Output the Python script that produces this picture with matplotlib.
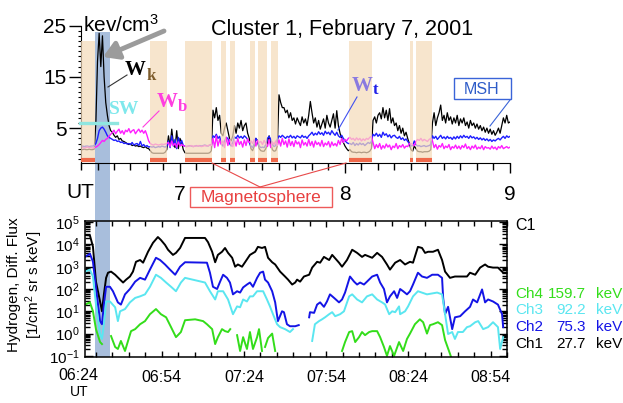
import numpy as np
import matplotlib
matplotlib.use('Agg')
import matplotlib.pyplot as plt
from matplotlib.patches import Rectangle
from matplotlib.lines import Line2D
import matplotlib.transforms as mtransforms
from matplotlib.ticker import FixedLocator, FixedFormatter, NullFormatter

plt.rcParams['font.family'] = ['Liberation Sans', 'DejaVu Sans']
plt.rcParams['mathtext.fontset'] = 'custom'
plt.rcParams['mathtext.rm'] = 'Liberation Sans'
plt.rcParams['mathtext.it'] = 'Liberation Sans:italic'
plt.rcParams['mathtext.bf'] = 'Liberation Sans:bold'
plt.rcParams['axes.unicode_minus'] = True

nan = np.nan

# ---------------- top panel: energy densities (keV/cm^3), sampled every 0.01 h from 6.40 UT
T0, DT = 6.40, 0.01
WK = [0.8, 0.8, 0.9, 0.8, 0.8, 0.9, 0.8, 0.8, 0.9, 6.0,
      18.0, 23.5, 17.0, 23.0, 15.0, 10.0, 7.5, 5.5, 4.5, 4.2,
      3.6, 3.2, 3.5, 2.8, 3.0, 2.5, 2.4, 2.2, 2.0, 1.8,
      1.9, 1.6, 1.7, 1.5, 1.6, 1.4, 1.5, 1.3, 1.2, 1.4,
      1.1, 1.0, 0.6, 0.2, 0.1, 0.1, 0.1, 0.1, 0.1, 0.1,
      0.1, 0.3, 0.8, 3.5, 1.5, 4.8, 2.0, 1.2, 4.5, 1.0,
      3.0, 2.2, 0.8, 0.2, 0.1, 0.1, 0.1, 0.1, 0.1, 0.1,
      0.1, 0.1, 0.1, 0.1, 0.1, 0.1, 0.1, 0.1, 0.2, 0.6,
      8.5, 7.0, 9.0, 6.5, 7.5, 4.0, 3.5, 5.0, 6.0, 4.5,
      3.0, 2.5, 3.5, 5.5, 4.0, 6.0, 5.0, 6.5, 4.5, 5.5,
      6.0, 4.0, 3.0, 1.0, 0.6, 1.5, 3.0, 2.5, 1.0, 0.6,
      0.5, 0.5, 1.0, 2.0, 3.5, 2.0, 0.8, 0.5, 0.6, 1.5,
      11.5, 10.0, 9.0, 9.0, 8.0, 8.5, 7.0, 8.0, 6.5, 7.0,
      5.8, 7.0, 6.2, 5.5, 7.2, 6.0, 6.8, 5.5, 7.5, 10.2,
      8.0, 6.0, 7.0, 5.2, 6.5, 4.8, 5.8, 6.8, 5.0, 7.5,
      6.0, 5.2, 6.5, 7.8, 5.0, 8.4, 5.5, 4.0, 3.0, 2.2,
      1.5, 1.0, 0.6, 0.8, 0.4, 0.3, 0.3, 0.2, 0.3, 0.3,
      0.2, 0.3, 0.3, 0.2, 0.3, 0.5, 1.0, 6.5, 7.2, 6.0,
      7.5, 8.0, 6.8, 9.0, 7.0, 8.5, 6.5, 8.8, 6.0, 7.0,
      5.5, 6.0, 4.5, 5.5, 4.0, 5.0, 3.5, 4.2, 3.0, 2.0,
      0.8, 0.5, 1.5, 1.0, 0.5, 0.4, 0.4, 0.3, 0.4, 0.4,
      0.4, 0.5, 0.8, 6.0, 8.0, 5.5, 7.0, 8.0, 9.5, 6.5,
      7.5, 6.0, 8.0, 6.5, 7.2, 5.8, 7.0, 6.0, 7.5, 5.5,
      6.8, 6.0, 7.0, 5.5, 6.2, 5.0, 6.5, 5.5, 6.0, 5.0,
      5.8, 4.8, 5.5, 4.5, 5.2, 4.2, 5.0, 4.0, 4.8, 3.8,
      4.5, 3.6, 4.2, 5.0, 4.0, 5.5, 7.0, 6.0, 7.5, 6.0, 6.2]
WT = [1.5, 1.5, 1.4, 1.5, 1.5, 1.4, 1.5, 1.5, 1.6, 2.0,
      3.0, 4.5, 5.0, 5.2, 4.8, 4.2, 3.5, 3.2, 3.0, 2.8,
      2.6, 2.7, 2.4, 2.5, 2.2, 2.3, 2.0, 2.1, 1.9, 2.0,
      1.8, 2.2, 1.7, 1.9, 2.0, 1.6, 2.4, 1.5, 1.8, 1.4,
      1.6, 1.3, 1.4, 1.3, 1.4, 1.2, 1.3, 1.4, 1.3, 1.5,
      1.4, 1.3, 1.5, 2.5, 1.2, 3.5, 1.5, 2.8, 1.0, 3.2,
      1.8, 2.6, 1.6, 1.5, 1.4, 1.5, 1.6, 1.5, 1.4, 1.5,
      1.6, 1.5, 1.6, 1.5, 1.6, 1.7, 1.6, 1.5, 1.7, 1.8,
      3.5, 3.2, 3.8, 3.0, 3.4, 2.0, 1.5, 2.5, 3.2, 3.0,
      2.0, 1.5, 2.2, 3.3, 3.0, 3.6, 3.1, 3.4, 3.0, 3.5,
      3.2, 2.8, 2.2, 1.5, 1.2, 2.0, 3.0, 2.5, 1.5, 1.2,
      1.3, 1.2, 1.8, 3.0, 3.4, 2.8, 1.8, 1.4, 1.6, 2.8,
      3.5, 3.2, 3.6, 3.3, 3.0, 3.4, 3.2, 3.6, 3.1, 3.4,
      3.0, 3.5, 3.3, 3.1, 3.6, 3.2, 3.4, 3.0, 3.5, 3.8,
      4.2, 3.6, 4.0, 3.7, 4.3, 3.8, 4.1, 3.6, 4.4, 3.9,
      4.2, 3.7, 4.5, 4.0, 3.6, 4.2, 3.5, 3.2, 3.6, 3.0,
      2.6, 2.2, 2.0, 2.0, 1.8, 2.2, 1.6, 2.0, 1.7, 2.1,
      1.8, 2.0, 1.6, 1.9, 2.2, 2.0, 2.4, 3.8, 3.5, 4.0,
      3.4, 3.8, 3.2, 4.2, 3.6, 3.9, 3.3, 3.7, 3.1, 3.5,
      3.6, 3.2, 3.0, 3.4, 2.8, 3.1, 2.6, 2.9, 2.4, 2.0,
      1.5, 1.6, 2.5, 1.8, 1.5, 1.6, 1.4, 1.5, 1.6, 1.4,
      1.5, 1.6, 1.8, 3.5, 3.0, 3.4, 2.8, 3.2, 3.6, 3.0,
      3.3, 2.9, 3.4, 3.0, 3.2, 2.8, 3.3, 2.9, 3.4, 3.0,
      3.5, 3.1, 3.6, 3.2, 3.4, 3.0, 3.5, 3.1, 3.3, 2.9,
      3.2, 2.8, 3.1, 2.7, 3.0, 2.6, 2.9, 2.5, 2.8, 2.4,
      2.7, 2.5, 2.8, 3.0, 2.7, 3.1, 3.4, 3.0, 3.5, 3.2, 3.4]
WB = [1.2, 1.2, 1.1, 1.2, 1.3, 1.2, 1.2, 1.1, 1.2, 1.3,
      1.5, 1.8, 2.2, 2.6, 2.4, 2.8, 3.0, 3.4, 3.8, 4.2,
      4.6, 3.9, 4.4, 4.8, 4.0, 4.5, 3.8, 4.6, 4.3, 4.9,
      4.1, 4.5, 4.7, 3.9, 4.4, 4.8, 4.2, 4.6, 4.0, 4.5,
      3.6, 2.5, 2.0, 1.8, 1.7, 1.9, 1.8, 1.7, 1.8, 1.9,
      1.8, 1.9, 2.0, 2.2, 1.4, 2.5, 1.6, 2.0, 1.3, 2.3,
      1.5, 1.8, 1.6, 1.5, 1.4, 1.5, 1.5, 1.6, 1.4, 1.5,
      1.5, 1.6, 1.5, 1.4, 1.5, 1.6, 1.5, 1.6, 1.7, 1.6,
      3.0, 1.2, 3.5, 1.5, 2.8, 1.8, 2.5, 1.2, 3.2, 1.6,
      2.8, 2.0, 1.4, 2.6, 1.5, 3.0, 1.8, 2.4, 1.3, 2.7,
      1.6, 2.9, 2.2, 2.5, 2.0, 2.8, 1.5, 2.6, 2.2, 2.4,
      1.8, 2.6, 2.0, 1.4, 2.8, 1.2, 2.3, 1.8, 2.5, 1.6,
      2.7, 1.5, 3.0, 1.8, 2.5, 1.3, 2.9, 1.6, 2.4, 1.4,
      2.6, 1.9, 2.3, 1.2, 2.7, 1.7, 2.2, 1.5, 2.8, 1.6,
      2.4, 1.3, 2.5, 1.8, 2.2, 1.5, 2.6, 1.4, 2.1, 1.7,
      2.4, 1.3, 2.3, 1.6, 2.0, 1.5, 2.6, 1.8, 3.0, 2.2,
      2.8, 2.5, 3.0, 3.2, 2.8, 3.0, 2.6, 3.1, 2.7, 3.0,
      2.5, 2.9, 2.6, 3.0, 2.8, 3.2, 3.4, 2.2, 1.0, 1.8,
      1.2, 2.0, 0.9, 1.6, 1.1, 1.9, 1.3, 1.7, 0.8, 1.5,
      1.2, 2.0, 1.0, 1.6, 1.3, 1.8, 1.1, 1.5, 1.4, 2.0,
      2.0, 1.8, 1.6, 2.4, 2.8, 2.6, 3.0, 2.5, 2.8, 2.6,
      2.4, 2.8, 3.0, 2.5, 1.2, 1.8, 0.9, 1.6, 1.3, 2.0,
      1.0, 1.5, 1.2, 1.8, 0.8, 1.4, 1.1, 1.7, 1.0, 1.5,
      0.9, 1.6, 1.2, 1.9, 1.0, 1.4, 0.8, 1.5, 1.1, 1.7,
      0.9, 1.3, 1.0, 1.6, 0.8, 1.4, 1.1, 1.2, 0.9, 1.5,
      1.0, 1.3, 0.8, 1.4, 1.1, 1.6, 1.0, 1.2, 1.4, 1.1, 1.3]

# magnetosphere intervals (hours UT)
MSPH_START = [6.400, 6.818, 7.030, 7.248, 7.303, 7.424, 7.473, 7.552, 8.024, 8.394, 8.430]
MSPH_END   = [6.485, 6.921, 7.194, 7.279, 7.333, 7.455, 7.527, 7.594, 8.164, 8.412, 8.527]
SW_START, SW_END = 6.485, 6.576      # solar-wind interval (blue band)
TOP_TICKS = [7, 8, 9]
TOP_TICK_LABELS = ['7', '8', '9']
TOP_Y_TICKS = [5, 15, 25]

# ---------------- bottom panel: log10 hydrogen flux, time in minutes after 06:00 UT
CH1_T = [26.0, 27.8, 28.9, 30.0, 31.5, 32.2, 32.9, 33.7, 34.4, 35.5, 37.0, 38.8, 39.9, 41.0, 42.4, 43.5, 44.6, 46.1, 47.2, 49.0,
         50.8, 52.6, 53.7, 55.2, 56.3, 58.1, 59.2, 60.7, 62.5, 66.2, 69.8, 70.9, 72.4, 73.5, 74.5, 76.0, 77.1, 78.2, 79.7, 80.8,
         81.8, 83.3, 84.4, 86.2, 88.1, 89.1, 90.6, 91.7, 92.8, 94.3, 95.4, 97.2, 99.0, 100.1, 101.6, 102.7, 103.4, 104.5, 105.9, 107.8,
         108.9, 110.7, 111.8, 113.2, 115.1, 116.2, 118.7, 119.8, 121.6, 123.5, 125.3, 127.1, 128.2, 130.8, 132.6, 134.4, 136.2, 137.3, 139.2, 141.0,
         142.8, 144.6, 145.7, 147.5, 149.0, 150.1, 151.2, 153.0, 154.8, 156.3, 157.4, 159.2, 161.0, 162.9, 165.4, 166.5, 168.4, 170.2, 172.0, 173.1,
         174.9, 176.7, 178.6]
CH1 = [4.42, 4.40, 3.90, 2.33, 1.44, 1.00, 1.76, 2.50, 2.73, 2.78, 2.64, 2.42, 2.29, 2.42, 2.56, 2.78, 3.22, 3.30, 3.18, 3.67,
       4.07, 4.33, 4.20, 3.98, 3.76, 3.53, 3.62, 3.84, 4.29, 4.29, 4.29, 4.10, 3.67, 3.20, 3.53, 3.67, 3.84, 3.62, 3.40, 3.00,
       3.10, 3.00, 3.20, 3.53, 3.67, 3.89, 3.84, 3.89, 3.40, 3.20, 3.10, 2.78, 2.56, 2.42, 2.20, 2.29, 2.42, 2.33, 2.56, 2.64,
       2.96, 3.22, 3.18, 3.44, 3.30, 3.53, 3.18, 3.00, 3.30, 3.76, 3.62, 3.44, 3.53, 3.40, 3.62, 3.44, 3.10, 2.87, 3.18, 3.30,
       3.10, 3.22, 3.18, 3.89, 3.84, 3.62, 3.67, 3.67, 3.76, 3.30, 2.78, 2.50, 2.56, 2.56, 2.56, 2.73, 2.64, 2.96, 3.10, 3.00,
       2.96, 2.96, 2.73]
CH2_T = [26.0, 27.8, 28.9, 30.0, 31.5, 32.2, 32.9, 33.7, 35.1, 36.2, 38.0, 39.1, 40.6, 42.4, 44.3, 46.1, 47.9, 49.7, 51.9, 53.4,
         55.2, 57.0, 58.9, 60.7, 62.5, 70.5, 71.6, 72.7, 74.2, 75.3, 76.4, 77.8, 78.9, 80.0, 81.5, 82.6, 83.7, 85.1, 86.2, 87.3,
         88.8, 89.9, 91.0, 91.7, 92.8, 94.3, 95.4, 96.4, 97.9, 98.6, 99.7, 100.8, 102.7, 104.0, 106.0, 107.8, 108.1, 109.6, 110.7, 111.8,
         113.2, 114.3, 115.4, 116.9, 118.7, 119.8, 120.9, 122.7, 124.2, 125.3, 126.4, 127.8, 128.9, 130.8, 132.6, 133.7, 135.1, 136.2, 137.3, 138.8,
         139.9, 141.0, 142.1, 143.5, 144.6, 145.7, 147.5, 149.0, 150.8, 152.7, 154.8, 156.3, 156.7, 157.4, 158.5, 160.0, 161.0, 162.9, 164.7, 166.5,
         167.6, 169.1, 170.9, 172.0, 173.1, 174.9, 176.7, 178.2, 178.6]
CH2 = [3.44, 3.58, 3.22, 2.07, 0.56, 0.42, 1.30, 2.10, 2.10, 1.90, 1.40, 1.30, 1.76, 2.00, 2.33, 2.50, 2.42, 2.87, 3.40, 3.30,
       3.10, 2.87, 2.64, 3.00, 3.20, 3.18, 2.73, 2.10, 2.00, 2.33, 2.64, 2.50, 2.29, 1.76, 1.90, 1.84, 2.07, 2.20, 2.29, 2.10,
       2.50, 2.73, 2.78, 2.42, 2.29, 1.90, 1.40, 0.56, 1.00, 0.96, 0.42, 0.33, 0.33, 0.38, nan, 0.73, 0.96, 0.93, 1.30, 1.40,
       1.20, 1.44, 1.76, 1.60, 1.40, 1.53, 1.84, 2.56, 2.33, 2.20, 2.29, 2.20, 2.33, 2.56, 2.64, 2.29, 2.00, 1.40, 1.67, 1.90,
       1.60, 2.00, 1.90, 1.76, 1.90, 2.20, 2.73, 2.56, 2.50, 2.64, 2.64, 2.50, 1.60, 0.87, 1.20, 0.20, 0.73, 0.78, 1.00, 1.20,
       1.53, 1.40, 1.98, 1.40, 1.53, 1.44, 1.30, 0.87, 0.29]
CH3_T = [26.0, 27.8, 28.9, 30.0, 31.5, 32.2, 32.9, 33.7, 35.1, 37.0, 38.0, 38.8, 40.6, 42.4, 44.3, 46.1, 47.9, 49.7, 51.9, 53.7,
         55.6, 57.4, 59.2, 61.0, 62.5, 69.8, 71.6, 73.5, 74.5, 76.4, 78.2, 80.0, 81.5, 82.6, 83.7, 85.1, 86.2, 87.3, 88.8, 89.9,
         91.0, 92.4, 93.5, 94.6, 96.1, 97.2, 99.0, 100.8, 101.9, 104.0, 108.9, 109.9, 111.4, 112.5, 113.6, 115.1, 116.2, 117.3, 119.1, 120.5,
         122.4, 123.5, 125.3, 127.1, 128.9, 130.8, 132.6, 134.4, 135.5, 137.0, 138.1, 139.2, 140.6, 141.0, 142.8, 143.9, 145.7, 147.5, 150.8, 154.5,
         156.3, 157.4, 158.5, 160.0, 161.0, 162.1, 163.9, 165.4, 166.5, 168.4, 169.5, 171.3, 173.1, 174.9, 176.7, 177.5, 178.6]
CH3 = [2.78, 2.87, 2.56, 1.31, -0.02, -0.24, 0.42, 1.44, 1.44, 1.18, 0.56, 1.00, 1.10, 1.40, 1.60, 1.67, 1.76, 2.10, 2.64, 2.50,
       2.29, 2.10, 1.90, 2.29, 2.50, 2.29, 1.90, 1.53, 1.90, 1.90, 1.53, 0.87, 1.22, 1.18, 1.53, 1.44, 1.67, 1.67, 1.90, 1.90,
       1.90, 1.53, 1.22, 0.87, 0.42, 0.29, 0.20, 0.07, 0.20, nan, -0.33, 0.42, 0.56, 0.64, 0.73, 0.87, 0.96, 0.78, 0.87, 1.00,
       1.67, 1.76, 1.53, 1.40, 1.67, 1.76, 1.53, 1.40, 1.31, 0.87, 1.00, 0.96, 1.22, 0.87, 1.00, 1.22, 1.67, 1.90, 1.76, 1.84,
       1.76, 0.87, -0.02, 0.07, -0.24, 0.07, 0.07, 0.29, 0.33, 0.51, 0.56, 0.20, 0.29, 0.51, 0.29, -0.69, -0.16]
CH4_T = [26.0, 27.8, 28.9, 30.0, 31.5, 32.2, 34.0, 35.5, 37.0, 38.0, 39.1, 40.6, 41.7, 42.8, 44.3, 46.1, 47.9, 49.7, 51.9, 53.7,
         55.6, 57.4, 59.2, 61.0, 62.5, 66.2, 69.1, 70.5, 72.4, 73.5, 74.5, 76.0, 77.1, 78.2, 79.0, 80.3, 81.5, 82.6, 83.7, 85.1,
         86.2, 87.3, 88.8, 89.5, 90.6, 91.1, 91.7, 92.8, 94.3, 95.4, 96.0, 119.8, 120.9, 122.4, 123.5, 124.6, 126.0, 127.1, 128.2, 129.7,
         130.8, 132.6, 133.7, 135.1, 136.2, 137.3, 138.8, 140.6, 142.1, 143.5, 144.6, 146.4, 148.2, 149.4, 150.8, 151.9, 153.0, 154.8, 156.3, 157.4,
         159.2, 160.0]
CH4 = [1.30, 1.40, 1.00, 0.20, -0.38, -0.47, nan, -0.11, -0.60, -0.69, -0.33, -0.78, -0.33, 0.11, 0.20, 0.42, 0.56, 0.87, 1.10, 0.87,
       0.73, 0.29, -0.16, 0.07, 0.60, 0.64, 0.56, 0.42, 0.20, -0.47, -0.16, 0.20, 0.11, 0.07, 0.20, nan, -0.07, -0.78, -0.16, -0.69,
       0.07, -0.69, -0.16, 0.20, -0.78, nan, -0.60, -0.20, 0.00, -0.78, nan, -0.78, -0.38, 0.07, 0.11, -0.38, -0.16, 0.07, -0.07, 0.07,
       0.11, 0.11, -0.16, -0.60, -1.00, -0.56, -1.00, -0.38, -0.78, -0.24, 0.00, 0.42, 0.64, 0.51, 0.00, 0.38, 0.42, 0.51, 0.38, -0.29,
       -0.91, -1.20]
CH_NAMES = ['Ch4', 'Ch3', 'Ch2', 'Ch1']
CH_ENERGY = ['159.7', '92.2', '75.3', '27.7']
BOTTOM_TICKS_MIN = [54, 84, 114, 144, 174]
BOTTOM_TICK_LABELS = ['06:54', '07:24', '07:54', '08:24', '08:54']
FIRST_TICK_LABEL = '06:24'
Y_DECADES = [-1, 0, 1, 2, 3, 4, 5]

# ---------------- figure
W, H = 623, 403
fig = plt.figure(figsize=(W / 100, H / 100), dpi=100)
fig.patch.set_facecolor('white')


def F(x, y):
    return (x / W, 1 - y / H)


C_BLACK, C_BLUE, C_MAG = 'black', '#1e1eff', '#ff1eff'
C_CH = {'Ch1': 'black', 'Ch2': '#1414e6', 'Ch3': '#5ae6f0', 'Ch4': '#33dd1a'}

# ---- top axes
ax1 = fig.add_axes([81 / W, 1 - 163 / H, 429 / W, 140 / H])
ax1.patch.set_visible(False)
ax1.set_xlim(6.40, 9.0)
ax1.set_ylim(-1.8, 25.5)
for s in ['top', 'right']:
    ax1.spines[s].set_visible(False)
ax1.spines['left'].set_bounds(-1.8, 25)

ax1.plot(T0 + DT * np.arange(len(WK)), WK, color=C_BLACK, lw=0.9, zorder=2)
ax1.plot(T0 + DT * np.arange(len(WT)), WT, color=C_BLUE, lw=1.0, zorder=2.1)
ax1.plot(T0 + DT * np.arange(len(WB)), WB, color=C_MAG, lw=1.0, zorder=2.2)

for a, b in zip(MSPH_START, MSPH_END):
    ax1.add_patch(Rectangle((a, -1.0), b - a, 23.0, facecolor='#f5dbba', alpha=0.72,
                            edgecolor='none', zorder=3))
    ax1.plot([a, b], [-1.15, -1.15], color='#f0694a', lw=3.0, solid_capstyle='butt', zorder=4)

ax1.xaxis.set_major_locator(FixedLocator(TOP_TICKS))
ax1.xaxis.set_major_formatter(FixedFormatter(TOP_TICK_LABELS))
ax1.xaxis.set_minor_locator(FixedLocator(np.arange(6.4, 9.001, 0.1)))
ax1.yaxis.set_major_locator(FixedLocator(TOP_Y_TICKS))
ax1.yaxis.set_minor_locator(FixedLocator(np.arange(-1, 25.5, 1)))
ax1.tick_params(axis='x', which='major', direction='out', length=7.5, width=1, labelsize=15, pad=8)
ax1.tick_params(axis='x', which='minor', direction='out', length=5, width=1)
ax1.tick_params(axis='y', which='major', direction='out', length=8.5, width=1, labelsize=15, pad=2)
ax1.tick_params(axis='y', which='minor', direction='out', length=2.5, width=0.8)

# ---- bottom axes
ax2 = fig.add_axes([85 / W, 1 - 357 / H, 422 / W, 136 / H])
ax2.patch.set_visible(False)
ax2.set_yscale('log')
ax2.set_xlim(6 + 26 / 60, 9.0)
ax2.set_ylim(10 ** -1.05, 10 ** 5.05)
for name, tt, vv in [('Ch1', CH1_T, CH1), ('Ch2', CH2_T, CH2), ('Ch3', CH3_T, CH3), ('Ch4', CH4_T, CH4)]:
    n = min(len(tt), len(vv))
    ax2.plot(6 + np.array(tt[:n]) / 60, 10 ** np.array(vv[:n]), color=C_CH[name], lw=1.4, zorder=2)

ax2.xaxis.set_major_locator(FixedLocator([6 + m / 60 for m in BOTTOM_TICKS_MIN]))
ax2.xaxis.set_major_formatter(FixedFormatter(BOTTOM_TICK_LABELS))
ax2.xaxis.set_minor_locator(FixedLocator(np.arange(6.4, 9.001, 0.1)))
ax2.yaxis.set_major_locator(FixedLocator([10.0 ** d for d in Y_DECADES]))
ax2.yaxis.set_major_formatter(FixedFormatter([r'$10^{%d}$' % d for d in Y_DECADES]))
ax2.yaxis.set_minor_locator(FixedLocator([k * 10.0 ** d for d in Y_DECADES[:-1] for k in range(2, 10)]))
ax2.yaxis.set_minor_formatter(NullFormatter())
ax2.tick_params(which='both', direction='in', top=True, right=True, width=1)
ax2.tick_params(which='major', length=6)
ax2.tick_params(which='minor', length=3.5)
ax2.tick_params(axis='x', which='major', length=4.5, labelsize=11.5, pad=9)
ax2.tick_params(axis='y', labelsize=11, pad=4)
for s in ax2.spines.values():
    s.set_linewidth(1.1)

fig.text(*F(78, 376), FIRST_TICK_LABEL, ha='center', va='center', fontsize=11.5)
fig.text(*F(79, 391.5), 'UT', ha='center', va='center', fontsize=10)
fig.text(*F(26, 285), 'Hydrogen, Diff. Flux\n[1/cm$^2$ sr s keV]', rotation=90,
         ha='center', va='center', fontsize=11, linespacing=1.1, multialignment='center')

# solar-wind band across both panels
trans = mtransforms.blended_transform_factory(ax1.transData, fig.transFigure)
fig.add_artist(Rectangle((SW_START, 1 - 357 / H), SW_END - SW_START, (357 - 32) / H,
                         transform=trans, facecolor='#a8bedc', edgecolor='none', zorder=-1))

# ---- top annotations
fig.text(*F(342, 35), 'Cluster 1, February 7, 2001', ha='center', va='baseline', fontsize=15.5)
fig.text(*F(83, 32), 'kev/cm$^3$', ha='left', va='baseline', fontsize=15)
fig.text(*F(80, 192), 'UT', ha='center', va='center', fontsize=15)

ann = dict(xycoords='figure fraction', textcoords='figure fraction')
ax1.annotate('', xy=F(103, 57), xytext=F(164, 31), annotation_clip=False,
             arrowprops=dict(arrowstyle='-|>,head_length=0.9,head_width=0.55', color='#9b9b9b',
                             lw=3.5, shrinkA=0, shrinkB=0), **ann)


def fline(p, q, color, lw=0.8):
    fig.add_artist(Line2D([p[0] / W, q[0] / W], [1 - p[1] / H, 1 - q[1] / H],
                          transform=fig.transFigure, color=color, lw=lw, zorder=6))


serif = ['Liberation Serif', 'DejaVu Serif']
fig.text(*F(135, 70), 'W', family=serif, weight='bold', fontsize=15, color='black', ha='center', va='center', zorder=7)
fig.text(*F(151, 76), 'k', family=serif, weight='bold', fontsize=12, color='#7d5c2c', ha='center', va='center', zorder=7)
fline((108, 87), (127, 75), '#333333')

fig.add_artist(Line2D([80 / W, 117 / W], [1 - 123 / H, 1 - 123 / H], transform=fig.transFigure,
                      color='#8fe6e0', lw=2.4, zorder=1))
fig.text(*F(124, 109), 'SW', family=serif, weight='bold', fontsize=14, color='#7fe8ec', ha='center', va='center', zorder=7)

fig.text(*F(167, 102), 'W', family=serif, weight='bold', fontsize=15, color='#ff3ee0', ha='center', va='center', zorder=7)
fig.text(*F(182, 107), 'b', family=serif, weight='bold', fontsize=12, color='#ff3ee0', ha='center', va='center', zorder=7)
fline((143, 127), (159, 111), '#ff3ee0')

fig.text(*F(362, 86), 'W', family=serif, weight='bold', fontsize=15, color='#8a7ae0', ha='center', va='center', zorder=7)
fig.text(*F(376, 90), 't', family=serif, weight='bold', fontsize=12, color='#2020e8', ha='center', va='center', zorder=7)
fline((338, 130), (357, 97), '#4050f0')

fig.add_artist(Rectangle(F(454, 99), 57 / W, 21 / H, transform=fig.transFigure,
                         facecolor='white', edgecolor='#3a64d8', lw=1.0, zorder=6))
fig.text(*F(482, 89), 'MSH', ha='center', va='center', fontsize=11.5, color='#2e5cc8', zorder=7)
fline((510, 100), (490, 126), '#3a64d8')

fig.add_artist(Rectangle(F(190, 207), 142 / W, 20 / H, transform=fig.transFigure,
                         facecolor='white', edgecolor='#ee5a5a', lw=1.0, zorder=6))
fig.text(*F(261, 197.5), 'Magnetosphere', ha='center', va='center', fontsize=12.5, color='#e84040', zorder=7)
fline((260, 187), (212, 163), '#e84a4a')
fline((260, 187), (346, 163), '#e84a4a')

# ---- bottom right labels
fig.text(*F(515, 226), 'C1', ha='left', va='center', fontsize=11.5)
for i, (nm, en) in enumerate(zip(CH_NAMES, CH_ENERGY)):
    y = 294 + 16.5 * i
    c = C_CH[nm]
    fig.text(*F(515, y), nm, ha='left', va='center', fontsize=11, color=c)
    fig.text(*F(586, y), en, ha='right', va='center', fontsize=11, color=c)
    fig.text(*F(596, y), 'keV', ha='left', va='center', fontsize=11, color=c)

fig.savefig('out.png', dpi=100)
